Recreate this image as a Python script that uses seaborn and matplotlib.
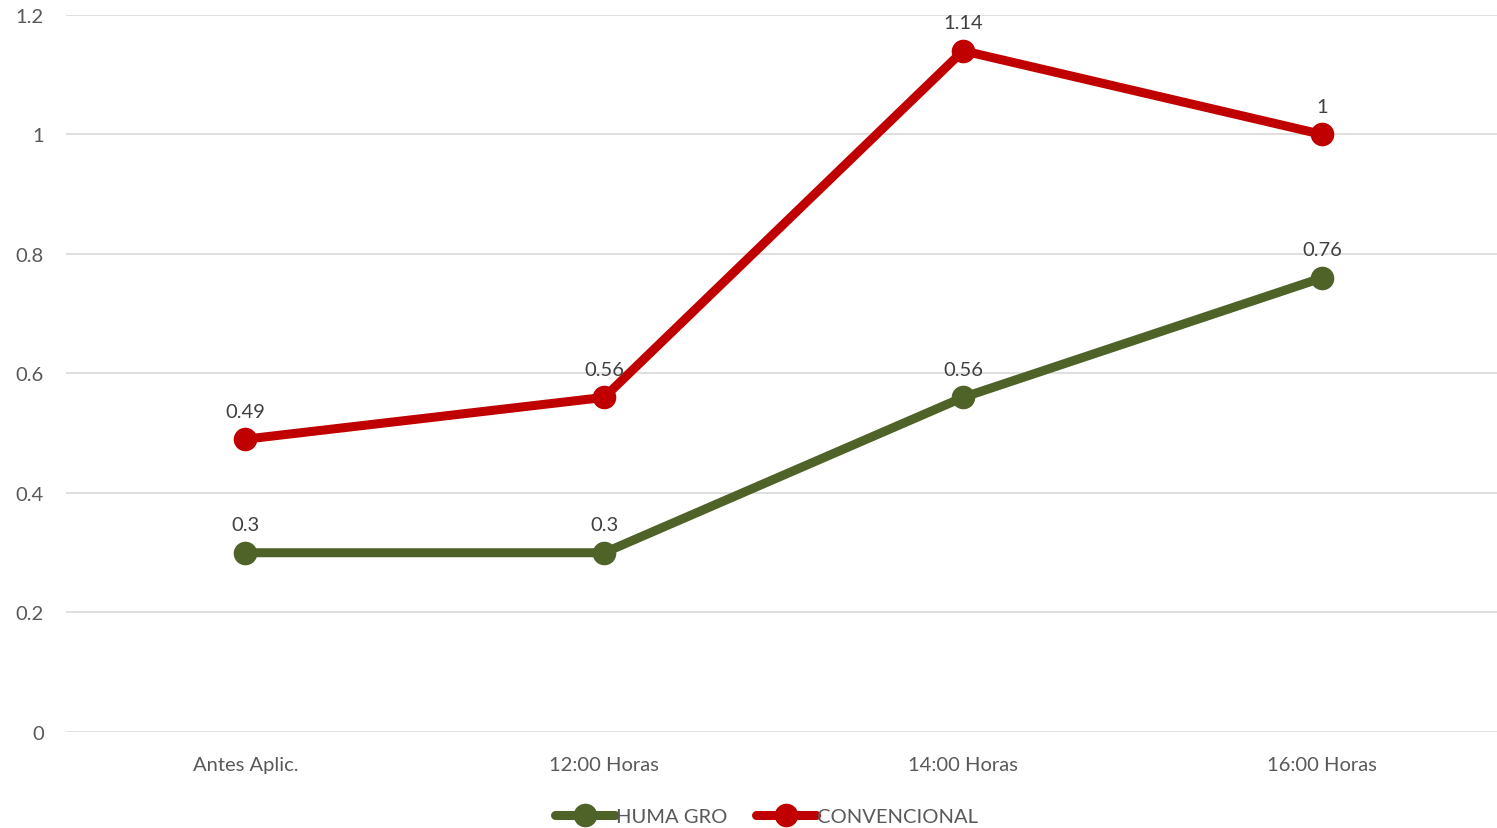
import pandas as pd
import seaborn as sns
import matplotlib.pyplot as plt
from matplotlib.ticker import FuncFormatter

# datos
categorias = ['Antes Aplic.', '12:00 Horas', '14:00 Horas', '16:00 Horas']
huma_gro = [0.3, 0.3, 0.56, 0.76]
convencional = [0.49, 0.56, 1.14, 1.0]
series = ['HUMA GRO', 'CONVENCIONAL']
colores = ['#4F6228', '#C00000']

df = pd.DataFrame({
    'periodo': categorias * 2,
    'valor': huma_gro + convencional,
    'serie': [series[0]] * 4 + [series[1]] * 4,
})

sns.set_style('white')
plt.rcParams['font.family'] = ['Lato', 'DejaVu Sans']

fig = plt.figure(figsize=(14.97, 8.29), dpi=100)
ax = fig.add_axes([0.044, 0.1158, 0.959, 0.865])

sns.lineplot(data=df, x='periodo', y='valor', hue='serie', palette=colores,
             marker='o', markersize=17, linewidth=6.5, sort=False,
             markeredgewidth=0, legend=False, ax=ax)

# etiquetas de datos
for vals in [huma_gro, convencional]:
    for i, v in enumerate(vals):
        ax.annotate(f'{v:g}', (i, v), xytext=(0, 14), textcoords='offset points',
                    ha='center', va='bottom', fontsize=14.5, color='#404040')

ax.set_xlim(-0.5, 3.5)
ax.set_ylim(0, 1.2)
ax.set_yticks([0, 0.2, 0.4, 0.6, 0.8, 1.0, 1.2])
ax.yaxis.set_major_formatter(FuncFormatter(lambda y, p: f'{y:g}'))
ax.grid(axis='y', color='#D9D9D9', linewidth=1.2)
ax.grid(axis='x', visible=False)
for s in ['top', 'right', 'left', 'bottom']:
    ax.spines[s].set_visible(False)
ax.tick_params(axis='both', length=0, labelsize=14.5, labelcolor='#595959')
ax.tick_params(axis='x', pad=17)
ax.tick_params(axis='y', pad=16)
ax.set_xlabel('')
ax.set_ylabel('')

handles = [plt.Line2D([], [], color=c, linewidth=6.5, marker='o', markersize=17,
                      markeredgewidth=0) for c in colores]
fig.legend(handles, series, loc='lower center', bbox_to_anchor=(0.512, -0.018),
           ncol=2, frameon=False, fontsize=14.5, labelcolor='#595959',
           handlelength=3.0, handletextpad=0.05, columnspacing=1.4)

fig.savefig('out.png', dpi=100)
